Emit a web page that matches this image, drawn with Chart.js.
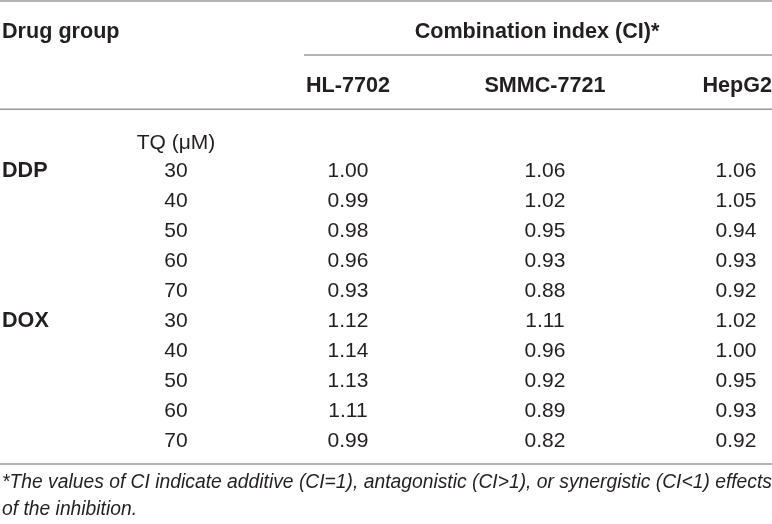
<!DOCTYPE html>
<html>
<head>
<meta charset="utf-8">
<script src="https://cdn.jsdelivr.net/npm/chart.js@4.4.1/dist/chart.umd.min.js"></script>
<style>
html,body{margin:0;padding:0;background:#fff;}
#wrap{position:relative;width:772px;height:524px;}
</style>
</head>
<body>
<div id="wrap"><canvas id="ciTable"></canvas></div>
<script>
// table content
const cellLines = ["HL-7702", "SMMC-7721", "HepG2"];
const drugs = ["DDP", "DOX"];
const tqDoses = ["30", "40", "50", "60", "70", "30", "40", "50", "60", "70"];
const hl7702 = [1.00, 0.99, 0.98, 0.96, 0.93, 1.12, 1.14, 1.13, 1.11, 0.99];
const smmc7721 = [1.06, 1.02, 0.95, 0.93, 0.88, 1.11, 0.96, 0.92, 0.89, 0.82];
const hepg2 = [1.06, 1.05, 0.94, 0.93, 0.92, 1.02, 1.00, 0.95, 0.93, 0.92];
const footnote = [
    "*The values of CI indicate additive (CI=1), antagonistic (CI>1), or synergistic (CI<1) effects",
    "of the inhibition."
];

// layout (x in px-like units, y in row units)
const ROW0 = 169, ROW_H = 30, H = 524, W = 772;
const colX = {drug: 2, tq: 176, cells: [348, 545, 736]};
const rowAt = {
    topRule: -5.6, head1: -4.633, ciRule: -3.8, head2: -2.833,
    midRule: -1.99, tq: -0.933, bottomRule: 9.833, foot1: 10.4, foot2: 11.3
};
const INK = "#231f20";
const RULE = "#9a9a9a";
const FONT = "'Liberation Sans', Arial, Helvetica, sans-serif";
const SIZE = 21;
const HEAD_SIZE = 21.6;
const FOOT_SIZE = 19.3;

const values = [hl7702, smmc7721, hepg2];

function text(ctx, str, x, y, align, weight, size, style){
    ctx.font = (style || "normal") + " " + weight + " " + size + "px " + FONT;
    ctx.textAlign = align;
    ctx.textBaseline = "alphabetic";
    ctx.fillStyle = INK;
    ctx.fillText(str, x, y + size * 0.358);
}

const tablePlugin = {
    id: "tablePlugin",
    afterDatasetsDraw(chart){
        const ctx = chart.ctx;
        const xs = chart.scales.x, ys = chart.scales.y;
        const px = v => xs.getPixelForValue(v);
        const py = r => ys.getPixelForValue(r);

        ctx.save();

        // rules
        ctx.strokeStyle = RULE;
        ctx.lineWidth = 1.4;
        const hline = (x0, x1, r) => {
            ctx.beginPath();
            ctx.moveTo(px(x0), py(r));
            ctx.lineTo(px(x1), py(r));
            ctx.stroke();
        };
        hline(0, W, rowAt.topRule);
        hline(304, W, rowAt.ciRule);
        hline(0, W, rowAt.midRule);
        hline(0, W, rowAt.bottomRule);

        // headers
        text(ctx, "Drug group", px(colX.drug), py(rowAt.head1), "left", "bold", HEAD_SIZE);
        text(ctx, "Combination index (CI)*", px(537), py(rowAt.head1), "center", "bold", HEAD_SIZE);
        cellLines.forEach((name, c) => {
            const last = c === cellLines.length - 1;
            const x = last ? px(W) : px(colX.cells[c]);
            text(ctx, name, x, py(rowAt.head2), last ? "right" : "center", "bold", HEAD_SIZE);
        });
        text(ctx, "TQ (\u03bcM)", px(colX.tq), py(rowAt.tq), "center", "normal", SIZE);

        // row labels
        const perDrug = tqDoses.length / drugs.length;
        drugs.forEach((d, g) => {
            text(ctx, d, px(colX.drug), py(g * perDrug), "left", "bold", HEAD_SIZE);
        });
        tqDoses.forEach((t, r) => {
            text(ctx, t, px(colX.tq), py(r), "center", "normal", SIZE);
        });

        // CI values at each point
        chart.data.datasets.forEach((ds, i) => {
            const meta = chart.getDatasetMeta(i);
            meta.data.forEach((pt, r) => {
                text(ctx, ds.data[r].ci.toFixed(2), pt.x, pt.y, "center", "normal", SIZE);
            });
        });

        // footnote
        text(ctx, footnote[0], px(2), py(rowAt.foot1), "left", "normal", FOOT_SIZE, "italic");
        text(ctx, footnote[1], px(2), py(rowAt.foot2), "left", "normal", FOOT_SIZE, "italic");

        ctx.restore();
    }
};

const chart = new Chart(document.getElementById("ciTable"), {
    type: "scatter",
    data: {
        datasets: cellLines.map((name, c) => ({
            label: name,
            data: values[c].map((v, r) => ({x: colX.cells[c], y: r, ci: v})),
            pointRadius: 0,
            pointHoverRadius: 0
        }))
    },
    options: {
        responsive: true,
        maintainAspectRatio: false,
        animation: false,
        events: [],
        layout: {padding: 0},
        plugins: {
            legend: {display: false},
            tooltip: {enabled: false}
        },
        scales: {
            x: {type: "linear", display: false, min: 0, max: W},
            y: {type: "linear", display: false, reverse: true,
                min: -ROW0 / ROW_H, max: (H - ROW0) / ROW_H}
        }
    },
    plugins: [tablePlugin]
});
</script>
</body>
</html>
